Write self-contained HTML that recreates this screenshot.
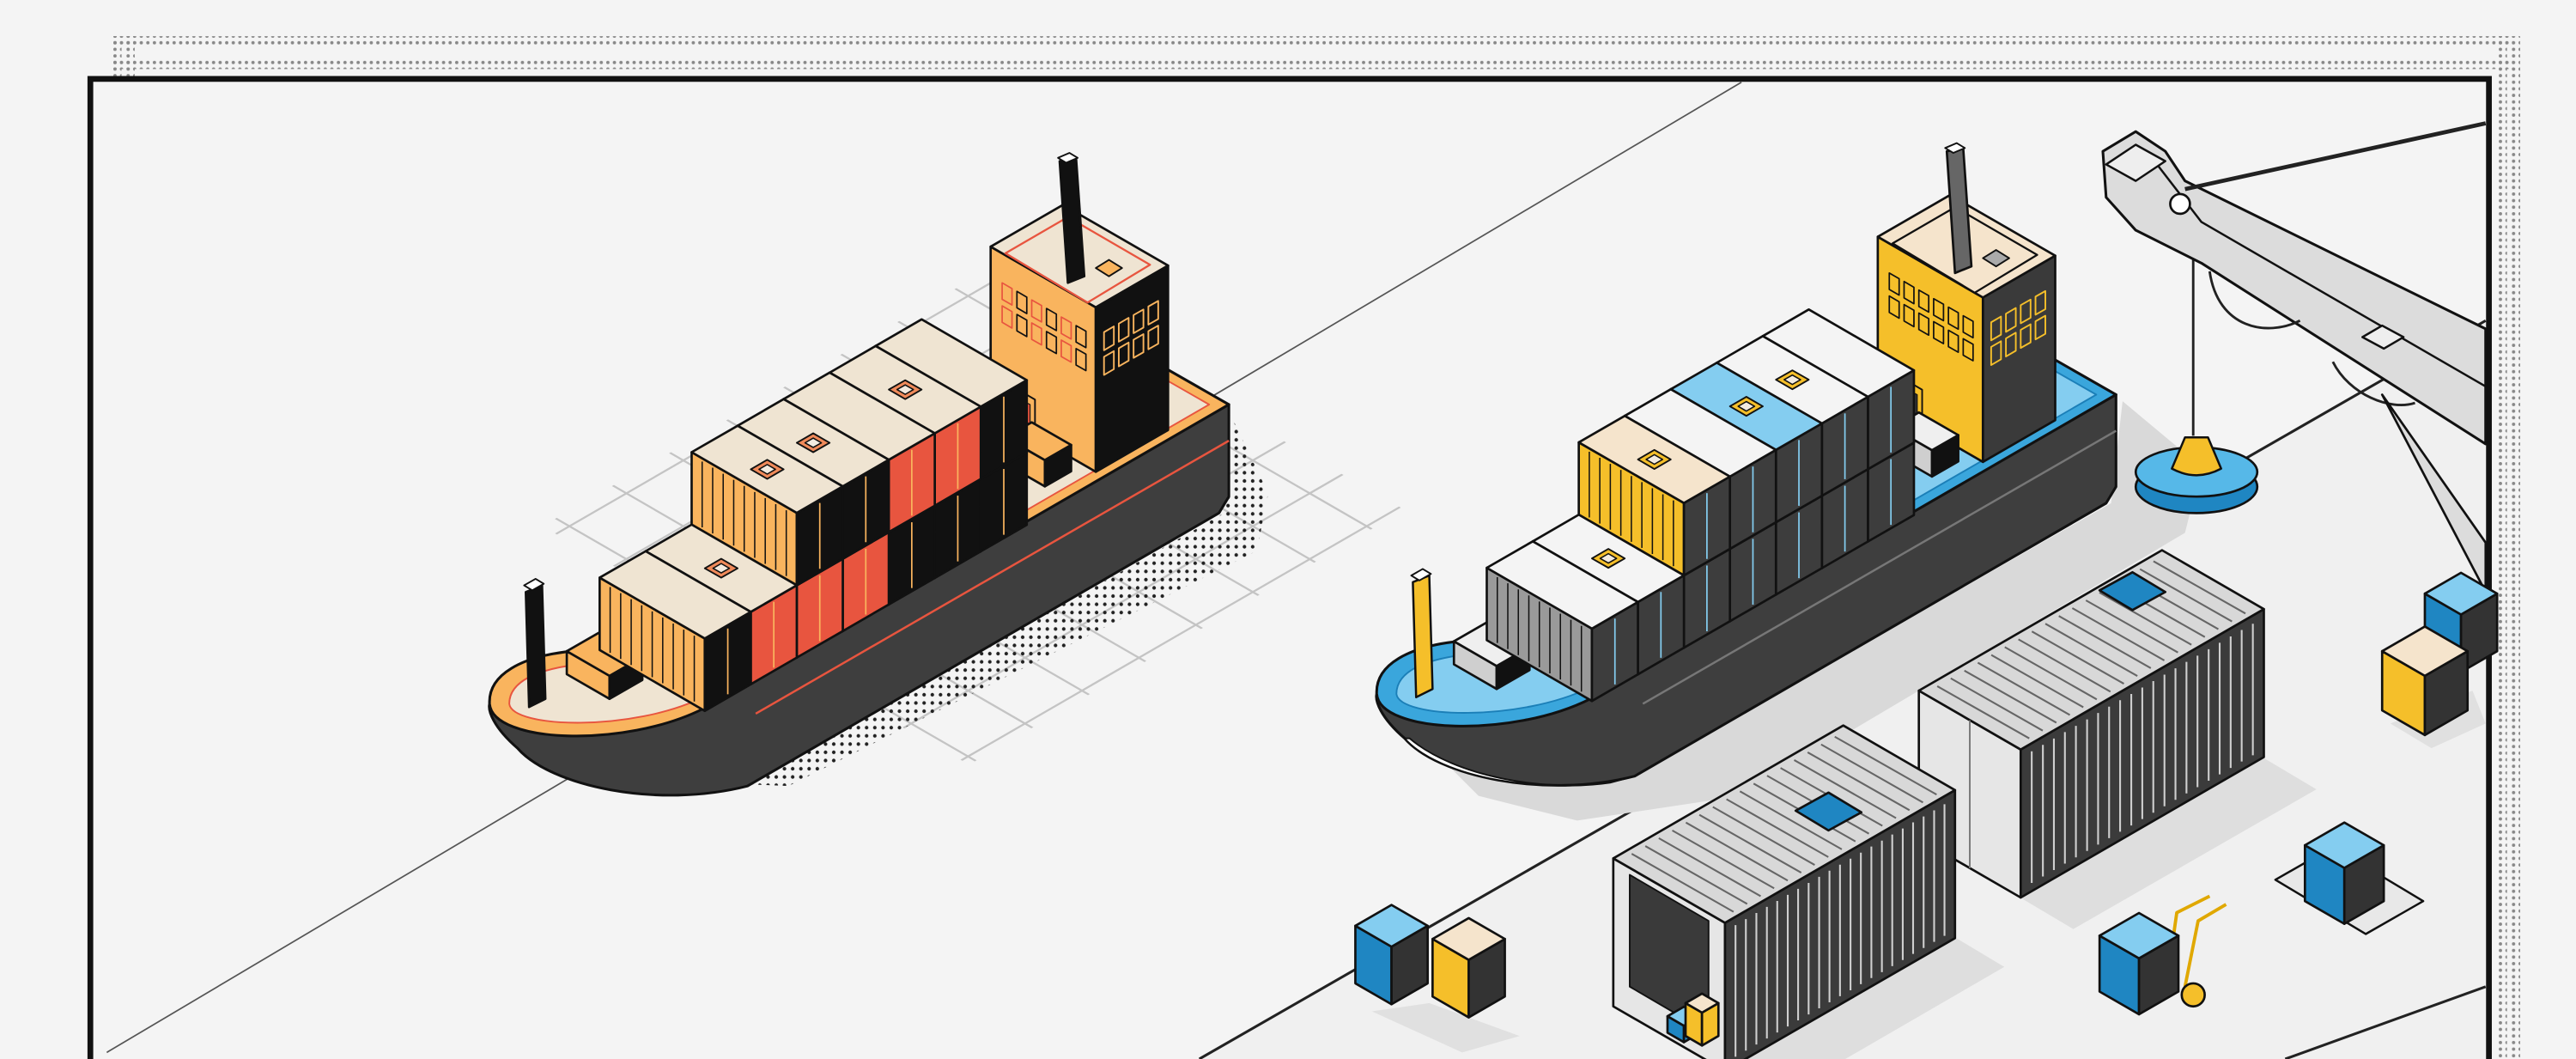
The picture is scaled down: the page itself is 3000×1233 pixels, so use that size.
<!DOCTYPE html>
<html><head><meta charset="utf-8"><style>html,body{margin:0;padding:0;background:#f4f4f4;overflow:hidden}svg{display:block}</style></head>
<body>
<svg id="s" xmlns="http://www.w3.org/2000/svg" width="3000" height="1233" viewBox="0 0 1568 644" preserveAspectRatio="none">
<defs>
<pattern id="dots" width="5" height="5" patternUnits="userSpaceOnUse"><circle cx="2.5" cy="2.5" r="1.1" fill="#222"/></pattern>
<pattern id="fd" width="4" height="4" patternUnits="userSpaceOnUse"><circle cx="2" cy="2" r="1" fill="#888"/></pattern>
<clipPath id="gridclip"><polygon points="330,320 600,165 855,310 590,465"/></clipPath>
<clipPath id="frame"><rect x="0" y="0" width="1568" height="644"/></clipPath>
</defs>
<rect width="1568" height="644" fill="#f4f4f4"/>
<rect x="68" y="22" width="1462" height="6" fill="url(#fd)"/>
<rect x="68" y="36" width="1462" height="6" fill="url(#fd)"/>
<rect x="68" y="22" width="6" height="622" fill="url(#fd)"/>
<rect x="76" y="22" width="6" height="622" fill="url(#fd)"/>
<rect x="1520" y="22" width="6" height="622" fill="url(#fd)"/>
<rect x="1528" y="22" width="6" height="622" fill="url(#fd)"/>
<rect x="55" y="48" width="1460" height="596" fill="#f4f4f4"/>
<path d="M55,644 L55,48 L1515,48 L1515,644" fill="none" stroke="#111" stroke-width="3.5"/>
<polygon points="730,644 1513,195 1513,644" fill="#f0f0f0"/>
<line x1="730" y1="644" x2="1513" y2="195" stroke="#222" stroke-width="1.6"/>
<line x1="1391" y1="644" x2="1513" y2="600" stroke="#222" stroke-width="1.6"/>
<line x1="65" y1="640" x2="1060" y2="50" stroke="#555" stroke-width="0.9"/>
<g id="grid" clip-path="url(#gridclip)"></g>
<g id="content" clip-path="url(#frame)"></g>
</svg>
<script>
const K=0.577;let out='';
const f=p=>p[0].toFixed(1)+','+p[1].toFixed(1);
function poly(pts,fill,sw,stroke){out+=`<polygon points="${pts.map(f).join(' ')}" fill="${fill}" stroke="${stroke||'#111'}" stroke-width="${sw||1.4}" stroke-linejoin="round"/>`;}
function path(d,fill,sw,stroke){out+=`<path d="${d}" fill="${fill}" stroke="${stroke||'#111'}" stroke-width="${sw===undefined?1.4:sw}" stroke-linejoin="round"/>`;}
function ln(x1,y1,x2,y2,c,w){out+=`<line x1="${x1.toFixed(1)}" y1="${y1.toFixed(1)}" x2="${x2.toFixed(1)}" y2="${y2.toFixed(1)}" stroke="${c}" stroke-width="${w||1}"/>`;}
function box(ax,ay,l,w,h,top,end,side,o){
 o=o||{};
 const A=[ax,ay],B=[ax+l,ay-K*l],D=[ax+w,ay+K*w],C=[ax+l+w,ay-K*l+K*w];const u=p=>[p[0],p[1]-h];
 poly([A,D,u(D),u(A)],end);poly([D,C,u(C),u(D)],side);poly([u(A),u(B),u(C),u(D)],top);
 if(o.stripes){for(let i=1;i<o.stripes;i++){const x=ax+w*i/o.stripes;const y=ay+K*w*i/o.stripes;ln(x,y-2,x,y-h+2,o.stripeC||'#111',0.8);}}
 if(o.endLines){for(let i=1;i<o.endLines;i++){const x=ax+w*i/o.endLines;const y=ay+K*w*i/o.endLines;ln(x,y-3,x,y-h+3,o.endLineC,0.8);}}
 if(o.ribs){for(let i=1;i<o.ribs;i++){const x=D[0]+l*i/o.ribs;const y=D[1]-K*l*i/o.ribs;ln(x,y-5,x,y-h+5,o.ribc||'#ddd',1.1);}}
 if(o.topRibs){for(let i=1;i<o.topRibs;i++){const x=ax+l*i/o.topRibs;const y=ay-h-K*l*i/o.topRibs;ln(x+3,y+2,x+w-3,y+K*w-2,'#666',1.1);}}
 if(o.mark){const cx=ax+l/2+w/2,cy=ay-h-K*l/2+K*w/2;const s=10;poly([[cx-s,cy],[cx,cy-s*K],[cx+s,cy],[cx,cy+s*K]],o.mark,1,'#111');poly([[cx-s/2,cy],[cx,cy-s*K/2],[cx+s/2,cy],[cx,cy+s*K/2]],o.top2||'#f3ebe0',0.8,'#111');}
 if(o.doors){const x=D[0]+l/2,y=D[1]-K*l/2;ln(x,y-2,x,y-h+2,o.doors,0.9);}
 return {A,B,C,D};
}
function ship(P){
 if(P.shadow==='dots')path('M748,250 L772,300 L765,335 L480,478 L340,472 L330,455 L450,480 L745,312 Z','url(#dots)',0);
 else path('M752,250 L800,290 L790,330 L520,490 L420,505 L360,490 L330,460 L450,480 L745,312 Z',P.shadow,0);
 path('M748,246 L748,302 L742,312 L455,478 C400,492 335,478 315,455 C300,442 297,432 298,428 Z',P.hull,1.6);
 if(P.keel)path('M318,455 C345,478 400,488 440,482 L455,478 C400,492 335,478 315,455 Z',P.keel,1);
 path('M748,268 L460,434',P.hull,1.3,P.stripe);
 path('M678,206 L748,246 L428,431 C380,455 300,452 298,428 C297,410 318,399 348,396 Z',P.rim,1.6);
 path('M680,214 L736,246 L428,424 C385,445 312,443 310,428 C310,414 328,407 352,404 Z',P.deck,1,P.rimS);
 poly([[320,360],[330,356],[332,425],[322,430]],P.mast,1.3);
 poly([[319,356],[326,352],[331,355],[324,359]],'#fff',1);
 box(345,410,20,26,14,P.boxTop,P.boxEnd,'#111');
 box(603,250,44,64,100,P.towerTop,P.towerEnd,P.towerSide);
 for(let r=0;r<2;r++)for(let c=0;c<6;c++){const x=610+c*9,y=172+c*9*K+r*14;poly([[x,y],[x+6,y+6*K],[x+6,y+6*K+10],[x,y+10]],'none',0.9,c%2?'#111':P.win2s);}
 for(let r=0;r<2;r++)for(let c=0;c<4;c++){const x=672+c*9,y=202-c*9*K+r*15;poly([[x,y],[x+6,y-6*K],[x+6,y-6*K+11],[x,y+11]],'none',1,P.winSide);}
 poly([[618,236],[630,243],[630,266],[618,259]],P.towerEnd,1);
 poly([[621,243],[627,246],[627,258],[621,255]],P.doorIn,0.6);
 poly([[612,154],[650,132],[700,161],[662,184]],P.roofIn,1.2,P.roofInS);
 poly([[645,98],[655,96],[660,168],[650,172]],P.chim,1.4);
 poly([[644,96],[651,93],[656,96],[649,99]],'#fff',1);
 poly([[667,163],[675,158],[683,163],[675,168]],P.roofBox,1);
 box(612,282,16,24,16,P.boxTop,P.boxEnd,'#111');
 const h=44,w=64;
 P.rows.forEach(s=>{const [t1,t2,tiers]=s;tiers.forEach((c,k)=>{const ax=681-t2,ay=213+K*t2-k*h;
   box(ax,ay,t2-t1,w,h,c.top,c.end,c.side,{stripes:c.striped?10:0,stripeC:c.sc||'#111',endLines:c.striped?0:4,endLineC:P.lineC,mark:c.mark?P.markC:null,doors:P.doorC});});});
}
const T1='#efe4d2',O='#f9b45e',R='#e8553f',B='#111';
const pal1={shadow:'dots',hull:'#3e3e3e',stripe:R,rim:O,rimS:R,deck:T1,mast:B,boxTop:O,boxEnd:O,
 towerTop:T1,towerEnd:O,towerSide:B,win2s:R,winSide:O,doorIn:R,roofIn:T1,roofInS:R,chim:B,roofBox:O,markC:'#f08a5a',doorC:O,lineC:O,
 rows:[[120,148,[{top:T1,end:B,side:B},{top:T1,end:B,side:B}]],
       [148,176,[{top:T1,end:B,side:B},{top:T1,end:B,side:R,mark:1}]],
       [176,204,[{top:T1,end:R,side:B},{top:T1,end:B,side:R}]],
       [204,232,[{top:T1,end:B,side:R},{top:T1,end:B,side:B,mark:1}]],
       [232,260,[{top:T1,end:R,side:R},{top:T1,end:O,side:B,striped:1,mark:1}]],
       [260,288,[{top:T1,end:R,side:R,mark:1}]],
       [288,316,[{top:T1,end:O,side:B,striped:1}]]]};
const W2='#f4f4f4',LB='#84cdf0',Y='#f5bf2a',G='#3d3d3d';
const pal2={shadow:'#d9d9d9',hull:'#3e3e3e',keel:'#ffffff',stripe:'#777',rim:'#3aa6dc',rimS:'#1b7fb8',deck:LB,mast:Y,boxTop:'#efefef',boxEnd:'#cfcfcf',
 towerTop:'#f5e4cc',towerEnd:Y,towerSide:'#3a3a3a',win2s:'#111',winSide:Y,doorIn:'#333',roofIn:'#f5e4cc',roofInS:'#111',chim:'#666',roofBox:'#aaa',markC:Y,doorC:LB,lineC:LB,
 rows:[[120,148,[{top:W2,end:G,side:G},{top:W2,end:G,side:G}]],
       [148,176,[{top:W2,end:G,side:G},{top:W2,end:G,side:G,mark:1}]],
       [176,204,[{top:LB,end:G,side:G},{top:LB,end:G,side:G,mark:1}]],
       [204,232,[{top:W2,end:G,side:G},{top:W2,end:G,side:G}]],
       [232,260,[{top:W2,end:G,side:G},{top:'#f5e4cc',end:Y,side:G,striped:1,mark:1}]],
       [260,288,[{top:W2,end:G,side:G,mark:1}]],
       [288,316,[{top:W2,end:'#9a9a9a',side:G,striped:1}]]]};
let g='';for(let i=-40;i<40;i++){const c=i*40;g+=`<line x1="200" y1="${(c+200*K).toFixed(1)}" x2="1000" y2="${(c+1000*K).toFixed(1)}" stroke="#c4c4c4" stroke-width="1.2"/>`;}
for(let i=-40;i<60;i++){const c=i*40;g+=`<line x1="200" y1="${(c-200*K).toFixed(1)}" x2="1000" y2="${(c-1000*K).toFixed(1)}" stroke="#c4c4c4" stroke-width="1.2"/>`;}
document.getElementById('grid').innerHTML=g;
out+='<g>';ship(pal1);out+='</g>';
out+='<g transform="translate(540,-6)">';ship(pal2);out+='</g>';
ln(1335,120,1335,265,'#222',1.5);
out+='<ellipse cx="1337" cy="296" rx="37" ry="16" fill="#1f86c2" stroke="#111" stroke-width="1.4"/><ellipse cx="1337" cy="287" rx="37" ry="15" fill="#56b8e8" stroke="#111" stroke-width="1.4"/>';
path('M1322,285 L1330,266 L1344,266 L1352,285 Q1337,293 1322,285 Z',Y,1.3);
path('M1280,92 L1300,80 L1318,92 L1330,110 L1513,200 L1513,270 L1340,160 L1300,140 L1282,120 Z','#dcdcdc',1.6);
path('M1313,100 L1340,135 L1513,235','none',1.3);
path('M1282,100 L1300,88 L1318,98 L1300,110 Z','#eee',1.3);
out+='<circle cx="1327" cy="124" r="6" fill="#fff" stroke="#111" stroke-width="1.4"/>';
ln(1330,115,1513,75,'#222',2.5);
path('M1345,165 C1350,200 1380,205 1400,195','none',1.5,'#222');
path('M1420,220 C1430,240 1455,250 1470,245','none',1.5,'#222');
path('M1450,240 L1513,330 L1513,360 Z','#dcdcdc',1.4);
poly([[1438,205],[1450,198],[1463,205],[1451,212]],'#eee',1.3);
path('M1230,546 L1378,461 L1410,480 L1262,565 Z','#dedede',0);
path('M1050,651 L1190,570 L1220,588 L1080,669 Z','#dedede',0);
box(1168,510,148,62,90,'#d8d8d8','#e6e6e6','#3b3b3b',{ribs:22,ribc:'#cfcfcf',topRibs:18});
ln(1199,528,1199,438,'#777',1);
box(982,612,140,68,90,'#d8d8d8','#e6e6e6','#3b3b3b',{ribs:22,ribc:'#cfcfcf',topRibs:17});
poly([[992,600],[1040,628],[1040,560],[992,532]],'#3a3a3a',1);
box(1015,628,10,10,10,LB,'#1f86c2','#1f86c2');box(1026,630,10,10,20,'#f5e4cc',Y,Y);
poly([[1278,359],[1298,348],[1318,360],[1298,371]],'#1f86c2',1.4);
poly([[1093,493],[1113,482],[1133,494],[1113,505]],'#1f86c2',1.4);
function cube(x,y,s,h,top,end,side){box(x,y,s,s,h,top,end,side);}
path('M835,615 L870,610 L925,630 L890,640 Z','#e0e0e0',0);
cube(825,598,22,35,LB,'#1f86c2','#333');
cube(872,606,22,35,'#f5e4cc',Y,'#333');
path('M1455,440 L1505,420 L1513,440 L1480,455 Z','#e0e0e0',0);
cube(1476,396,22,35,LB,'#1f86c2','#333');
cube(1450,432,26,36,'#f5e4cc',Y,'#333');
poly([[1385,535],[1420,515],[1475,548],[1440,568]],'#e8e8e8',1.3);
cube(1403,548,24,34,LB,'#1f86c2','#333');
path('M1320,590 L1325,555 L1345,545 M1330,600 L1338,560 L1355,550','none',2,'#e0a800');
out+='<circle cx="1335" cy="605" r="7" fill="#f5bf2a" stroke="#111" stroke-width="1.4"/>';
cube(1278,603,24,34,LB,'#1f86c2','#333');
document.getElementById('content').innerHTML=out;
</script>
</body></html>
